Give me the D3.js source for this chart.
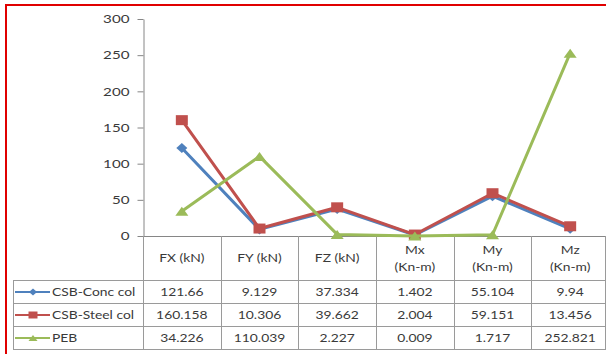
<!DOCTYPE html>
<html lang="en">
<head>
    <meta charset="UTF-8">
    <title>CSB vs PEB reactions</title>
    <script src="https://cdn.jsdelivr.net/npm/d3@7"></script>
    <style>
        body { margin: 0; background: #fff; }
        svg text { font-family: Lato, "Open Sans", sans-serif; fill: #3a3a3a; }
    </style>
</head>
<body>
    <script>
        // chart data
        const categories = ["FX", "FY", "FZ", "Mx", "My", "Mz"];
        const categoryLabels = [["FX (kN)"], ["FY (kN)"], ["FZ (kN)"], ["Mx", "(Kn-m)"], ["My", "(Kn-m)"], ["Mz", "(Kn-m)"]];
        const seriesNames = ["CSB-Conc col", "CSB-Steel col", "PEB"];
        const concCol = [121.66, 9.129, 37.334, 1.402, 55.104, 9.94];
        const steelCol = [160.158, 10.306, 39.662, 2.004, 59.151, 13.456];
        const peb = [34.226, 110.039, 2.227, 0.009, 1.717, 252.821];
        const yTicks = [0, 50, 100, 150, 200, 250, 300];

        const colors = ["#4f81bd", "#c0504d", "#9bbb59"];
        const series = [concCol, steelCol, peb];
        const stretch = 1.32; // the picture is squeezed wide, text with it

        // marker shapes, w/h are full width and height
        function markerPath(kind, w, h) {
            const a = w / 2, b = h / 2;
            if (kind === 0) return `M0,${-b}L${a},0L0,${b}L${-a},0Z`;
            if (kind === 1) return `M${-a},${-b}H${a}V${b}H${-a}Z`;
            return `M0,${-b}L${a},${b}H${-a}Z`;
        }
        const markerDims = [[11, 10], [12, 10], [13, 9]];
        const legendDims = [[8, 7], [9, 7], [9, 6]];

        const width = 606, height = 354;
        const svg = d3.select("body").append("svg")
            .attr("width", width)
            .attr("height", height);

        function label(x, y, str, size, anchor) {
            return svg.append("text")
                .attr("transform", `translate(${x},${y}) scale(${stretch},1)`)
                .attr("text-anchor", anchor || "middle")
                .style("font-size", size + "px")
                .text(str);
        }

        // red frame
        svg.append("rect")
            .attr("x", 6).attr("y", 5)
            .attr("width", 640).attr("height", 400)
            .attr("fill", "none")
            .attr("stroke", "#e00000")
            .attr("stroke-width", 2);

        const x = d3.scaleBand().domain(categories).range([143, 609]);
        const y = d3.scaleLinear().domain([0, 300]).range([236, 19]);
        const cx = c => x(c) + x.bandwidth() / 2;

        // y axis
        const yAxis = svg.append("g")
            .attr("transform", "translate(143.5,0)")
            .call(d3.axisLeft(y).tickValues(yTicks).tickSize(6).tickSizeOuter(0).tickPadding(8));
        yAxis.select(".domain").attr("stroke", "#868686");
        yAxis.selectAll(".tick line").attr("stroke", "#868686");
        yAxis.selectAll(".tick text")
            .attr("x", -14 / stretch)
            .attr("transform", `scale(${stretch},1)`)
            .style("font-size", "11.5px")
            .attr("fill", "#3a3a3a");

        // data table grid
        const rowY = [280, 303, 326, 349];
        const grid = svg.append("g").attr("stroke", "#9a9a9a").attr("stroke-width", 1);
        grid.append("line")
            .attr("x1", 143).attr("x2", 609)
            .attr("y1", y(0) + 0.5).attr("y2", y(0) + 0.5)
            .attr("stroke", "#868686");
        rowY.forEach(ry => {
            grid.append("line")
                .attr("x1", 13).attr("x2", 609)
                .attr("y1", ry + 0.5).attr("y2", ry + 0.5);
        });
        grid.append("line")
            .attr("x1", 13.5).attr("x2", 13.5)
            .attr("y1", rowY[0]).attr("y2", rowY[3]);
        categories.forEach(c => {
            grid.append("line")
                .attr("x1", Math.round(x(c)) + 0.5).attr("x2", Math.round(x(c)) + 0.5)
                .attr("y1", y(0)).attr("y2", rowY[3]);
        });
        grid.append("line")
            .attr("x1", 605.5).attr("x2", 605.5)
            .attr("y1", y(0)).attr("y2", rowY[3]);

        // header labels
        categoryLabels.forEach((lines, i) => {
            if (lines.length === 1) {
                label(cx(categories[i]), 262, lines[0], 10.5);
            } else {
                label(cx(categories[i]), 254, lines[0], 10.5);
                label(cx(categories[i]), 271, lines[1], 10.5);
            }
        });

        // table rows with legend keys
        series.forEach((vals, si) => {
            const ry = (rowY[si] + rowY[si + 1]) / 2 + 0.5;
            svg.append("line")
                .attr("x1", 15).attr("x2", 50)
                .attr("y1", ry).attr("y2", ry)
                .attr("stroke", colors[si]).attr("stroke-width", 2);
            svg.append("path")
                .attr("d", markerPath(si, legendDims[si][0], legendDims[si][1]))
                .attr("transform", `translate(33,${ry})`)
                .attr("fill", colors[si]);
            label(52, ry + 4, seriesNames[si], 10.5, "start");
            vals.forEach((v, i) => {
                label(cx(categories[i]), ry + 4, String(v), 10.5);
            });
        });

        // lines and markers
        const line = d3.line()
            .x((d, i) => cx(categories[i]))
            .y(d => y(d));

        series.forEach((vals, si) => {
            svg.append("path")
                .datum(vals)
                .attr("d", line)
                .attr("fill", "none")
                .attr("stroke", colors[si])
                .attr("stroke-width", 3)
                .attr("stroke-linejoin", "round");
            svg.append("g").selectAll("path")
                .data(vals)
                .join("path")
                .attr("d", markerPath(si, markerDims[si][0], markerDims[si][1]))
                .attr("transform", (d, i) => `translate(${cx(categories[i])},${y(d)})`)
                .attr("fill", colors[si]);
        });
    </script>
</body>
</html>
